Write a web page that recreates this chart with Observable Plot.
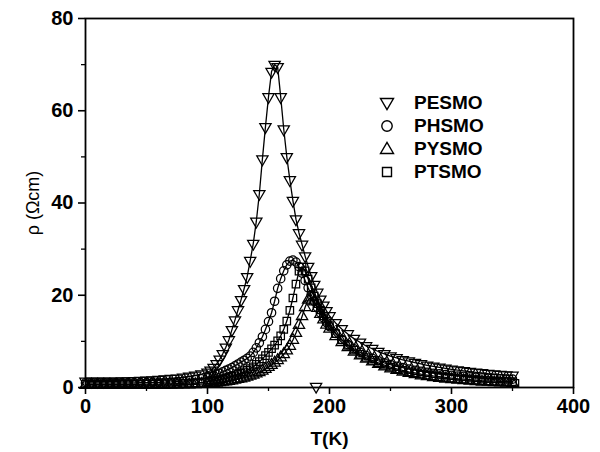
<!DOCTYPE html>
<html>
<head>
<meta charset="utf-8">
<script src="https://cdn.jsdelivr.net/npm/d3@7"></script>
<script src="https://cdn.jsdelivr.net/npm/@observablehq/plot@0.6"></script>
<style>
  html, body { margin: 0; padding: 0; background: #fff; }
  #wrap { position: relative; width: 600px; height: 452px; font-family: "Liberation Sans", Arial, sans-serif; }
  #wrap svg text { font-family: "Liberation Sans", Arial, sans-serif; }
  #legend { position: absolute; left: 376px; top: 92px; }
  #legend .row { display: flex; align-items: center; height: 22.8px; }
  #legend .row span { font-weight: bold; font-size: 19px; margin-left: 16px; color: #000; }
</style>
</head>
<body>
<div id="wrap"></div>
<script>
// ---------- data ----------
const seriesNames = ["PESMO", "PHSMO", "PYSMO", "PTSMO"];

const temperature = [
  0,5,10,15,20,25,30,35,40,45,50,55,60,65,70,75,80,85,90,95,100,
  102.5,105,107.5,110,112.5,115,117.5,120,122.5,125,127.5,130,132.5,135,137.5,140,142.5,145,147.5,150,
  152.5,155,157.5,160,162.5,165,167.5,170,172.5,175,177.5,180,182.5,185,187.5,190,192.5,195,197.5,200,
  205,210,215,220,225,230,235,240,245,250,255,260,265,270,275,280,285,290,295,300,
  305,310,315,320,325,330,335,340,345,350
];

const rhoPESMO = [
  1.3,1.3,1.3,1.3,1.35,1.35,1.4,1.4,1.45,1.5,1.55,1.6,1.7,1.8,1.9,2.0,2.2,2.4,2.6,2.9,3.3,
  3.7,4.3,5.1,6.1,7.3,8.7,10.3,12.5,14.6,16.8,19.0,21.4,24.0,27.5,31.2,36,42,49.5,56.5,63,
  68.5,70,69.5,63,56,50,45,40.5,36.5,33.5,31,28.5,26.2,24.2,22.3,20.6,19.1,17.8,16.6,15.5,
  14.0,12.7,11.6,10.6,9.8,9.0,8.4,7.8,7.3,6.8,6.4,6.0,5.7,5.4,5.1,4.8,4.6,4.35,4.15,3.95,
  3.75,3.6,3.45,3.3,3.15,3.0,2.9,2.8,2.7,2.6
];

const rhoPHSMO = [
  1.0,1.0,1.0,1.0,1.0,1.0,1.0,1.0,1.0,1.05,1.05,1.1,1.1,1.15,1.2,1.3,1.4,1.5,1.7,1.9,2.2,
  2.4,2.6,2.9,3.1,3.4,3.7,4.0,4.3,4.7,5.1,5.5,5.9,6.3,6.8,7.6,8.6,9.7,11.0,12.6,14.3,
  16.2,18.7,21.5,23.6,25.3,26.6,27.4,27.6,27.2,26.2,24.8,23.2,21.6,20.1,18.7,17.4,16.2,15.1,14.1,13.2,
  11.7,10.4,9.3,8.4,7.6,6.9,6.3,5.8,5.35,4.95,4.6,4.3,4.0,3.75,3.5,3.3,3.1,2.95,2.8,2.65,
  2.5,2.4,2.3,2.2,2.1,2.0,1.95,1.9,1.85,1.8
];

const rhoPYSMO = [
  0.5,0.5,0.5,0.5,0.5,0.5,0.5,0.5,0.5,0.5,0.5,0.5,0.5,0.5,0.55,0.55,0.6,0.65,0.7,0.75,0.85,
  0.9,0.95,1.0,1.1,1.2,1.3,1.4,1.5,1.65,1.8,1.95,2.1,2.3,2.5,2.75,3.0,3.3,3.6,4.0,4.4,
  4.85,5.35,5.9,6.5,7.2,8.0,9.0,10.3,11.8,13.5,15.4,17.4,19.0,19.5,18.6,17.2,15.9,14.7,13.6,12.7,
  11.1,9.8,8.7,7.7,6.9,6.2,5.6,5.05,4.55,4.1,3.75,3.4,3.1,2.85,2.6,2.4,2.2,2.05,1.9,1.75,
  1.65,1.55,1.45,1.35,1.25,1.2,1.1,1.05,1.0,0.95
];

const rhoPTSMO = [
  0.7,0.7,0.7,0.7,0.7,0.7,0.7,0.7,0.7,0.7,0.75,0.75,0.75,0.8,0.8,0.85,0.9,0.95,1.0,1.1,1.25,
  1.35,1.45,1.55,1.7,1.85,2.0,2.2,2.4,2.6,2.85,3.1,3.4,3.75,4.1,4.5,5.0,5.6,6.2,6.9,7.6,
  8.4,9.2,10.1,11.2,12.6,14.4,16.7,19.4,22.4,25.2,26.1,25.3,23.5,21.6,19.8,18.2,16.8,15.5,14.4,13.4,
  11.7,10.3,9.1,8.1,7.2,6.5,5.9,5.35,4.85,4.4,4.05,3.7,3.4,3.15,2.9,2.7,2.5,2.35,2.2,2.05,
  1.9,1.8,1.7,1.6,1.5,1.45,1.4,1.35,1.3,1.25
];

// isolated stray symbols near the baseline
const strayName = ["PESMO", "PTSMO"];
const strayT = [189, 352];
const strayRho = [0.2, 0.9];

const xMajorTicks = [0, 100, 200, 300, 400];
const xMinorTicks = [50, 150, 250, 350];
const yMajorTicks = [0, 20, 40, 60, 80];
const yMinorTicks = [10, 30, 50, 70];

// ---------- symbols ----------
const sqrt3 = Math.sqrt(3);
const triangleDown = {
  draw(context, size) {
    const y = -Math.sqrt(size / (sqrt3 * 3));
    context.moveTo(0, -y * 2);
    context.lineTo(-sqrt3 * y, y);
    context.lineTo(sqrt3 * y, y);
    context.closePath();
  }
};
const symbolFor = { PESMO: triangleDown, PHSMO: "circle", PYSMO: "triangle", PTSMO: "square" };
const rhoFor = { PESMO: rhoPESMO, PHSMO: rhoPHSMO, PYSMO: rhoPYSMO, PTSMO: rhoPTSMO };

const rows = seriesNames.flatMap(name =>
  temperature.map((t, i) => ({ series: name, T: t, rho: rhoFor[name][i] }))
);
const strayRows = strayT.map((t, i) => ({ series: strayName[i], T: t, rho: strayRho[i] }));

const plot = Plot.plot({
  width: 600,
  height: 452,
  marginLeft: 85,
  marginRight: 27,
  marginTop: 18,
  marginBottom: 65,
  style: { fontFamily: "Liberation Sans, Arial, sans-serif", background: "white", color: "black" },
  x: { domain: [0, 400] },
  y: { domain: [0, 80] },
  marks: [
    Plot.axisX(xMajorTicks, { tickSize: 7, tickPadding: 4, strokeWidth: 1.6, fontSize: 20, fontWeight: "bold", label: null }),
    Plot.axisX(xMinorTicks, { tickSize: 4, strokeWidth: 1.3, tickFormat: () => "", label: null }),
    Plot.axisY(yMajorTicks, { tickSize: 7, tickPadding: 5, strokeWidth: 1.6, fontSize: 20, fontWeight: "bold", label: null }),
    Plot.axisY(yMinorTicks, { tickSize: 4, strokeWidth: 1.3, tickFormat: () => "", label: null }),
    Plot.text(["T(K)"], { frameAnchor: "bottom", dy: 51, fontSize: 19, fontWeight: "bold", lineAnchor: "middle" }),
    Plot.text(["\u03c1 (\u03a9cm)"], { frameAnchor: "left", dx: -52, rotate: -90, fontSize: 18, fontWeight: "normal", textAnchor: "middle" }),
    Plot.line(rows, { x: "T", y: "rho", z: "series", stroke: "black", strokeWidth: 1.3 }),
    ...seriesNames.map(name =>
      Plot.dot(rows.filter(d => d.series === name), {
        x: "T", y: "rho", symbol: symbolFor[name], r: 4.2, stroke: "black", strokeWidth: 1.25, fill: "none"
      })
    ),
    ...strayRows.map(d =>
      Plot.dot([d], { x: "T", y: "rho", symbol: symbolFor[d.series], r: 4.2, stroke: "black", strokeWidth: 1.25, fill: "none" })
    ),
    Plot.frame({ stroke: "black", strokeWidth: 1.8 })
  ]
});

const wrap = document.getElementById("wrap");
wrap.appendChild(plot);

// ---------- legend ----------
const legend = document.createElement("div");
legend.id = "legend";
wrap.appendChild(legend);
const legendPath = {
  PESMO: "M-6.5,-4.5L6.5,-4.5L0,6.5Z",
  PHSMO: null,
  PYSMO: "M-6.5,4.5L6.5,4.5L0,-6.5Z",
  PTSMO: "M-4.5,-4.5H4.5V4.5H-4.5Z"
};
seriesNames.forEach(name => {
  const row = d3.select(legend).append("div").attr("class", "row");
  const svg = row.append("svg").attr("width", 22).attr("height", 18);
  const g = svg.append("g").attr("transform", "translate(11,9)");
  if (name === "PHSMO") {
    g.append("circle").attr("r", 5.2).attr("fill", "none").attr("stroke", "black").attr("stroke-width", 1.4);
  } else {
    g.append("path").attr("d", legendPath[name]).attr("fill", "none").attr("stroke", "black").attr("stroke-width", 1.4);
  }
  row.append("span").text(name);
});
</script>
</body>
</html>
